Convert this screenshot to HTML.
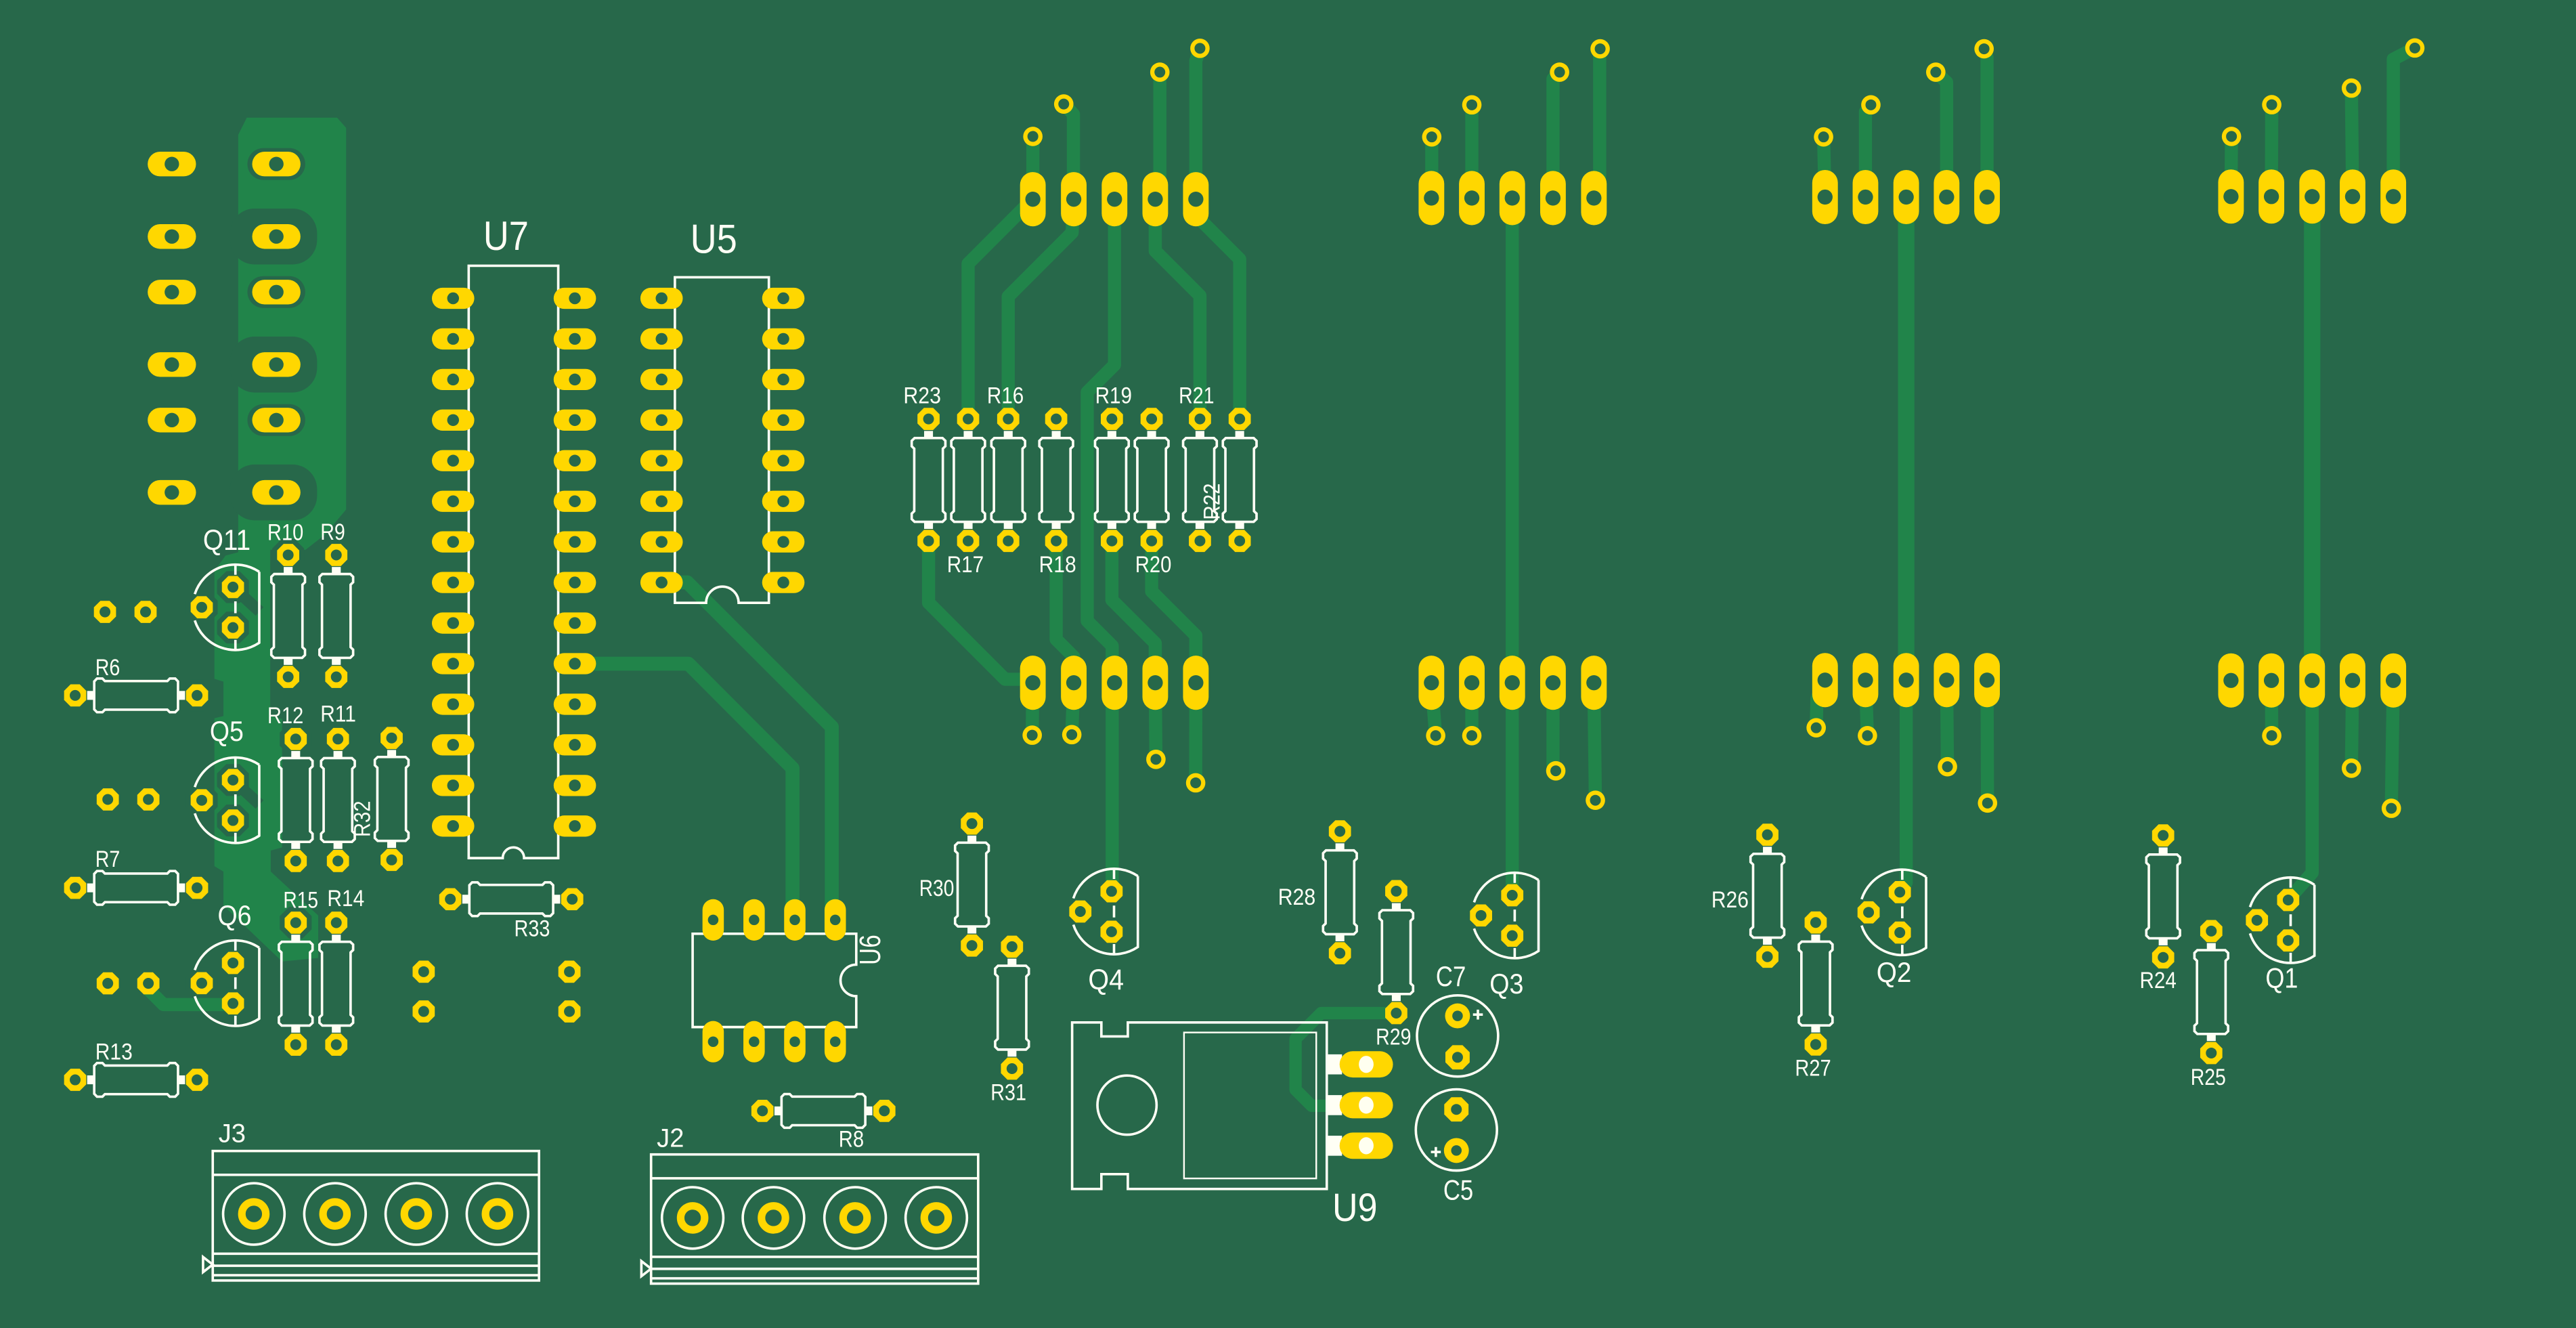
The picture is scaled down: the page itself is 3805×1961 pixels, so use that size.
<!DOCTYPE html>
<html><head><meta charset="utf-8">
<style>
html,body{margin:0;padding:0;background:#27684A;overflow:hidden}
svg{display:block}
text{font-family:"Liberation Sans",Arial,sans-serif;fill:#FFFFF5}
</style></head>
<body>
<svg xmlns="http://www.w3.org/2000/svg" width="3805" height="1961" viewBox="0 0 1568 808" preserveAspectRatio="none">
<defs>
<g id="op"><polygon points="6.74,2.79 2.79,6.74 -2.79,6.74 -6.74,2.79 -6.74,-2.79 -2.79,-6.74 2.79,-6.74 6.74,-2.79" fill="#FFD700"/><circle r="3.3" fill="#27684A"/></g>
<g id="opb"><polygon points="7.39,3.06 3.06,7.39 -3.06,7.39 -7.39,3.06 -7.39,-3.06 -3.06,-7.39 3.06,-7.39 7.39,-3.06" fill="#FFD700"/><circle r="3.3" fill="#27684A"/></g>
<polygon id="cl" points="9.7,4.02 4.02,9.7 -4.02,9.7 -9.7,4.02 -9.7,-4.02 -4.02,-9.7 4.02,-9.7 9.7,-4.02" fill="#27684A"/>
<g id="via"><circle r="5.9" fill="#FFD700"/><circle r="3.3" fill="#27684A"/></g>
<g id="hp"><rect x="-7.8" y="-16.5" width="15.6" height="33" rx="7.8" fill="#FFD700"/><circle r="4.6" fill="#27684A"/></g>
<g id="ip"><rect x="-12.9" y="-6.45" width="25.8" height="12.9" rx="6.45" fill="#FFD700"/><circle r="3.6" fill="#27684A"/></g>
<g id="lp"><rect x="-14.7" y="-7.5" width="29.4" height="15" rx="7.5" fill="#FFD700"/><circle r="4.4" fill="#27684A"/></g>
<g id="up"><rect x="-6.5" y="-12.6" width="13" height="25.2" rx="6.5" fill="#FFD700"/><circle r="3.2" fill="#27684A"/></g>
<g id="rp"><circle r="7.6" fill="#FFD700"/><circle r="3.2" fill="#27684A"/></g>
<g id="rv"><path d="M-8.5,-25.5H8.5L10.25,-23.8V-20.5L8.7,-19V19L10.25,20.5V23.8L8.5,25.5H-8.5L-10.25,23.8V20.5L-8.7,19V-19L-10.25,-20.5V-23.8Z" fill="none" stroke="#FFFFF5" stroke-width="1.5"/><rect x="-2.7" y="-29.8" width="5.4" height="4.3" fill="#FFFFF5"/><rect x="-2.7" y="25.5" width="5.4" height="4.3" fill="#FFFFF5"/></g>
<g id="Rv"><use href="#rv"/><use href="#op" y="-37.1"/><use href="#op" y="37.1"/></g>
<g id="Rh"><use href="#rv" transform="rotate(90)"/><use href="#op" x="-37.1"/><use href="#op" x="37.1"/></g>
<g id="Q"><path d="M14.5,-21.58A26,26 0 0 0 -24.74,-8M-24.74,8A26,26 0 0 0 14.5,21.58L14.5,-21.58M0,-26V-19.8M0,-3.6V3.6M0,19.8V26" fill="none" stroke="#FFFFF5" stroke-width="1.5"/><use href="#op" x="-1.5" y="-12.3"/><use href="#op" x="-20.5" y="0"/><use href="#op" x="-1.5" y="12.3"/></g>
<g id="jc"><circle r="18.7" fill="none" stroke="#FFFFF5" stroke-width="1.5"/><circle r="7.3" fill="none" stroke="#FFD700" stroke-width="4.6"/></g>
</defs>

<rect width="1568" height="808" fill="#27684A"/>

<!-- copper pour -->
<path d="M145,82L150.2,71.6L205.2,71.6L210.7,77.8L210.7,310L197.8,325.3L186,334.5L164.5,334.5L164.5,435.7L171.7,437.5L171.7,515.6L164.8,517.5L164.8,530.3L193.7,557L193.7,582.9L171.7,585L136,551L136,530.3L130.5,527L130.5,437L136,435.7L136,414.7L130.5,413L130.5,347.4L137.3,338L145,336Z" fill="#21844A"/>

<!-- clearances -->
<g fill="#27684A">
<rect x="140" y="126.9" width="53" height="34" rx="15"/>
<rect x="140" y="204.8" width="53" height="34" rx="15"/>
<rect x="140" y="282.6" width="53" height="34" rx="15"/>
<rect x="150.6" y="90.1" width="35.2" height="19.4" rx="9.7"/>
<rect x="150.6" y="168" width="35.2" height="19.4" rx="9.7"/>
<rect x="150.6" y="245.9" width="35.2" height="19.4" rx="9.7"/>
<use href="#cl" x="141.8" y="357.2"/><use href="#cl" x="141.8" y="381.8"/><use href="#cl" x="122.8" y="369.5"/>
<use href="#cl" x="141.8" y="474.6"/><use href="#cl" x="141.8" y="499.2"/><use href="#cl" x="122.8" y="486.9"/>
<use href="#cl" x="141.8" y="585.9"/><use href="#cl" x="141.8" y="610.5"/><use href="#cl" x="122.8" y="598.2"/>
<use href="#cl" x="175.4" y="337.7"/><use href="#cl" x="180" y="449.7"/><use href="#cl" x="180" y="561.4"/>
<use href="#cl" x="119.9" y="423.1"/><use href="#cl" x="119.9" y="540.2"/>
</g>
<path d="M141.8,357.2L158,372M141.8,474.6L158,489.5" stroke="#27684A" stroke-width="7" fill="none"/>

<!-- traces -->
<g fill="none" stroke="#21844A" stroke-width="8" stroke-linecap="round" stroke-linejoin="round">
<path d="M628.7,83V121"/>
<path d="M647.5,63.3L653.4,69.5V121"/>
<path d="M706,43.9V118"/>
<path d="M730.4,29.4L727.9,37V121"/>
<path d="M628.7,121L589.3,160.4V254.8"/>
<path d="M653.6,121L652.6,141.5L613.7,180.4V254.8"/>
<path d="M678.4,121V222L661.8,238.6V377.8L677,393V541.8"/>
<path d="M703.2,121V152.7L730.4,179.9V254.8"/>
<path d="M727.9,121V131L754.6,157.7V254.8"/>
<path d="M565.2,329.1V366.7L611.8,413.3H628.7"/>
<path d="M642.9,329.1V389L653.6,399.7V415"/>
<path d="M676.8,329.1V365L703.2,391.4V415"/>
<path d="M701,329.1V359.8L727.9,386.7V415"/>
<path d="M628.7,415L628.3,447.3"/>
<path d="M653.6,415L652.4,447"/>
<path d="M703.2,415L703.6,462"/>
<path d="M727.9,415L727.8,476.3"/>

<path d="M871.5,83.3V120.5"/>
<path d="M895.9,63.8V120.5"/>
<path d="M949.3,43.9L945.3,48V120.5"/>
<path d="M974,29.7L973.7,32V118"/>
<path d="M920.5,120.5V544.7"/>
<path d="M871.3,415.4L873.9,447.6"/>
<path d="M895.9,415.4V447.6"/>
<path d="M945.3,415.4V465L947,469"/>
<path d="M970.2,415.4L971.1,486.9"/>

<path d="M1110,83.3L1110.9,119.9"/>
<path d="M1138.8,63.8L1135.5,68V119.9"/>
<path d="M1178.3,43.9L1184.9,50V119.9"/>
<path d="M1207.7,29.7L1209.5,35V119.9"/>
<path d="M1160.3,119.9V413.8" stroke-width="10"/>
<path d="M1160.3,413.8V537L1156.4,542.8"/>
<path d="M1110.9,413.8L1106,425L1105.5,442.8"/>
<path d="M1135.5,413.8L1136.7,447.6"/>
<path d="M1184.9,413.8L1185.4,466.5"/>
<path d="M1209.5,413.8L1209.8,488.6"/>

<path d="M1358.3,83L1358,119.6"/>
<path d="M1382.8,63.7L1382.6,119.6"/>
<path d="M1431.3,53.6L1432,119.6"/>
<path d="M1469.9,29.2L1456.8,36V119.6"/>
<path d="M1407.4,119.6V414" stroke-width="10"/>
<path d="M1407.4,414V531L1392.8,547.6"/>
<path d="M1382.6,414L1382.8,447.6"/>
<path d="M1432,414L1431.3,467.4"/>
<path d="M1456.8,414L1455.6,491.8"/>

<path d="M402.7,354.3H418.3L506.3,442.3V559.7" stroke-width="8.5"/>
<path d="M349.9,403.8H419L482.4,467.4V559.7" stroke-width="8.5"/>
<path d="M849.9,616.4H804.2L788.6,632V663L798.4,672.8H831.6" stroke-width="7.5"/>
<path d="M90.3,598.3V602L99.5,611.2H141.8"/>
</g>

<!-- silkscreen outlines -->
<g fill="none" stroke="#FFFFF5" stroke-width="1.5">
<path d="M285.3,161.7H339.8V522.1H319A6.5,6.5 0 0 0 306,522.1H285.3Z"/>
<path d="M410.8,168.7H468V366.8H449.6A9.9,9.9 0 0 0 429.8,366.8H410.8Z"/>
<path d="M421.6,568.1H521.2V586.9A9.6,9.6 0 0 0 521.2,606.1V624.9H421.6Z"/>
<path d="M652.6,622.1H670.4V630.6H686.5V622.1H807.6V723.4H686.5V714.4H670.4V723.4H652.6Z"/>
<rect x="720.7" y="628.2" width="80.5" height="88.8" stroke-width="1"/>
<circle cx="686" cy="672.4" r="18"/>
<rect x="129.5" y="700.3" width="198.6" height="78.8"/>
<path d="M129.5,714.8H328.1M129.5,762.8H328.1M129.5,770.1H328.1M129.5,775.9H328.1"/>
<path d="M123.6,764.8L129.5,769.4L123.6,774Z"/>
<rect x="396.3" y="702.4" width="199.1" height="78.6"/>
<path d="M396.3,716.9H595.4M396.3,764.7H595.4M396.3,772H595.4M396.3,777.8H595.4"/>
<path d="M390.4,767.3L396.3,771.9L390.4,776.5Z"/>
<circle cx="887.2" cy="630.3" r="24.7"/>
<circle cx="886.5" cy="687.5" r="24.7"/>
<path d="M896.6,617.3H902.6M899.6,614.3V620.3M871,700.9H877M874,697.9V703.9"/>
</g>
<g fill="#FFFFF5">
<rect x="807.6" y="641.5" width="9.3" height="12.2"/>
<rect x="807.6" y="666.3" width="9.3" height="12.2"/>
<rect x="807.6" y="691" width="9.3" height="12.2"/>
</g>

<!-- connectors -->
<use href="#jc" x="154.5" y="738.6"/><use href="#jc" x="203.9" y="738.6"/><use href="#jc" x="253.4" y="738.6"/><use href="#jc" x="302.8" y="738.6"/>
<use href="#jc" x="421.6" y="741"/><use href="#jc" x="470.8" y="741"/><use href="#jc" x="520.5" y="741"/><use href="#jc" x="569.9" y="741"/>

<!-- resistors -->
<use href="#Rv" x="175.4" y="374.75"/><use href="#Rv" x="204.7" y="374.75"/>
<use href="#Rv" x="180" y="486.75"/><use href="#Rv" x="205.7" y="486.75"/><use href="#Rv" x="238.4" y="486.1"/>
<use href="#Rv" x="180" y="598.5"/><use href="#Rv" x="204.7" y="598.5"/>
<use href="#Rh" x="82.85" y="423.1"/><use href="#Rh" x="82.85" y="540.2"/><use href="#Rh" x="82.85" y="657"/>
<use href="#Rh" x="311.2" y="547.1"/><use href="#Rh" x="501.2" y="675.9"/>
<use href="#Rv" x="565.2" y="292"/><use href="#Rv" x="589.3" y="292"/><use href="#Rv" x="613.7" y="292"/><use href="#Rv" x="642.9" y="292"/>
<use href="#Rv" x="676.8" y="292"/><use href="#Rv" x="701" y="292"/><use href="#Rv" x="730.4" y="292"/><use href="#Rv" x="754.6" y="292"/>
<use href="#Rv" x="591.6" y="538.2"/><use href="#Rv" x="616" y="613.1"/>
<use href="#Rv" x="815.6" y="542.9"/><use href="#Rv" x="849.9" y="579.3"/>
<use href="#Rv" x="1075.8" y="545"/><use href="#Rv" x="1105.2" y="598.4"/>
<use href="#Rv" x="1316.7" y="545.4"/><use href="#Rv" x="1346" y="603.6"/>

<!-- transistors -->
<use href="#Q" x="143.3" y="369.5"/><use href="#Q" x="143.3" y="486.9"/><use href="#Q" x="143.3" y="598.2"/>
<use href="#Q" x="678.1" y="554.6"/><use href="#Q" x="922" y="557"/><use href="#Q" x="1157.9" y="555.1"/><use href="#Q" x="1394.3" y="559.9"/>

<!-- misc pads -->
<use href="#op" x="63.9" y="372.3"/><use href="#op" x="88.6" y="372.3"/>
<use href="#op" x="65.6" y="486.4"/><use href="#op" x="90.3" y="486.4"/>
<use href="#op" x="65.6" y="598.3"/><use href="#op" x="90.3" y="598.3"/>
<use href="#op" x="257.9" y="591.2"/><use href="#op" x="257.9" y="615.4"/><use href="#op" x="346.6" y="591.2"/><use href="#op" x="346.6" y="615.4"/>
<use href="#rp" x="887.2" y="618.1"/><use href="#opb" x="887.2" y="643.3"/>
<use href="#opb" x="886.5" y="675"/><use href="#rp" x="886.5" y="700"/>

<!-- left header -->
<use href="#lp" x="104.6" y="99.8"/><use href="#lp" x="104.6" y="143.9"/><use href="#lp" x="104.6" y="177.7"/><use href="#lp" x="104.6" y="221.8"/><use href="#lp" x="104.6" y="255.6"/><use href="#lp" x="104.6" y="299.6"/>
<use href="#lp" x="168.2" y="99.8"/><use href="#lp" x="168.2" y="143.9"/><use href="#lp" x="168.2" y="177.7"/><use href="#lp" x="168.2" y="221.8"/><use href="#lp" x="168.2" y="255.6"/><use href="#lp" x="168.2" y="299.6"/>

<!-- U7 pads -->
<g>
<use href="#ip" x="275.8" y="181.5"/><use href="#ip" x="275.8" y="206.2"/><use href="#ip" x="275.8" y="230.9"/><use href="#ip" x="275.8" y="255.6"/><use href="#ip" x="275.8" y="280.3"/><use href="#ip" x="275.8" y="305"/><use href="#ip" x="275.8" y="329.7"/><use href="#ip" x="275.8" y="354.4"/><use href="#ip" x="275.8" y="379.1"/><use href="#ip" x="275.8" y="403.8"/><use href="#ip" x="275.8" y="428.5"/><use href="#ip" x="275.8" y="453.2"/><use href="#ip" x="275.8" y="477.9"/><use href="#ip" x="275.8" y="502.6"/>
<use href="#ip" x="349.9" y="181.5"/><use href="#ip" x="349.9" y="206.2"/><use href="#ip" x="349.9" y="230.9"/><use href="#ip" x="349.9" y="255.6"/><use href="#ip" x="349.9" y="280.3"/><use href="#ip" x="349.9" y="305"/><use href="#ip" x="349.9" y="329.7"/><use href="#ip" x="349.9" y="354.4"/><use href="#ip" x="349.9" y="379.1"/><use href="#ip" x="349.9" y="403.8"/><use href="#ip" x="349.9" y="428.5"/><use href="#ip" x="349.9" y="453.2"/><use href="#ip" x="349.9" y="477.9"/><use href="#ip" x="349.9" y="502.6"/>
</g>
<!-- U5 pads -->
<g>
<use href="#ip" x="402.7" y="181.5"/><use href="#ip" x="402.7" y="206.2"/><use href="#ip" x="402.7" y="230.9"/><use href="#ip" x="402.7" y="255.6"/><use href="#ip" x="402.7" y="280.3"/><use href="#ip" x="402.7" y="305"/><use href="#ip" x="402.7" y="329.7"/><use href="#ip" x="402.7" y="354.4"/>
<use href="#ip" x="476.8" y="181.5"/><use href="#ip" x="476.8" y="206.2"/><use href="#ip" x="476.8" y="230.9"/><use href="#ip" x="476.8" y="255.6"/><use href="#ip" x="476.8" y="280.3"/><use href="#ip" x="476.8" y="305"/><use href="#ip" x="476.8" y="329.7"/><use href="#ip" x="476.8" y="354.4"/>
</g>
<!-- U6 pads -->
<use href="#up" x="434.1" y="559.7"/><use href="#up" x="459" y="559.7"/><use href="#up" x="483.8" y="559.7"/><use href="#up" x="508.4" y="559.7"/>
<use href="#up" x="434.1" y="633.8"/><use href="#up" x="459" y="633.8"/><use href="#up" x="483.8" y="633.8"/><use href="#up" x="508.4" y="633.8"/>
<!-- U9 pads -->
<g>
<rect x="815.4" y="639.6" width="32.5" height="16" rx="8" fill="#FFD700"/><ellipse cx="831.6" cy="647.6" rx="4.5" ry="5.2" fill="#FFFFF0"/>
<rect x="815.4" y="664.4" width="32.5" height="16" rx="8" fill="#FFD700"/><ellipse cx="831.6" cy="672.4" rx="4.5" ry="5.2" fill="#FFFFF0"/>
<rect x="815.4" y="689.1" width="32.5" height="16" rx="8" fill="#FFD700"/><ellipse cx="831.6" cy="697.1" rx="4.5" ry="5.2" fill="#FFFFF0"/>
</g>

<!-- headers -->
<use href="#hp" x="628.7" y="121.2"/><use href="#hp" x="653.6" y="121.2"/><use href="#hp" x="678.4" y="121.2"/><use href="#hp" x="703.2" y="121.2"/><use href="#hp" x="727.9" y="121.2"/>
<use href="#hp" x="628.7" y="415.4"/><use href="#hp" x="653.6" y="415.4"/><use href="#hp" x="678.4" y="415.4"/><use href="#hp" x="703.2" y="415.4"/><use href="#hp" x="727.9" y="415.4"/>
<use href="#hp" x="871.3" y="120.5"/><use href="#hp" x="895.9" y="120.5"/><use href="#hp" x="920.5" y="120.5"/><use href="#hp" x="945.3" y="120.5"/><use href="#hp" x="970.2" y="120.5"/>
<use href="#hp" x="871.3" y="415.4"/><use href="#hp" x="895.9" y="415.4"/><use href="#hp" x="920.5" y="415.4"/><use href="#hp" x="945.3" y="415.4"/><use href="#hp" x="970.2" y="415.4"/>
<use href="#hp" x="1110.9" y="119.9"/><use href="#hp" x="1135.5" y="119.9"/><use href="#hp" x="1160.3" y="119.9"/><use href="#hp" x="1184.9" y="119.9"/><use href="#hp" x="1209.5" y="119.9"/>
<use href="#hp" x="1110.9" y="413.8"/><use href="#hp" x="1135.5" y="413.8"/><use href="#hp" x="1160.3" y="413.8"/><use href="#hp" x="1184.9" y="413.8"/><use href="#hp" x="1209.5" y="413.8"/>
<use href="#hp" x="1358" y="119.6"/><use href="#hp" x="1382.6" y="119.6"/><use href="#hp" x="1407.4" y="119.6"/><use href="#hp" x="1432" y="119.6"/><use href="#hp" x="1456.8" y="119.6"/>
<use href="#hp" x="1358" y="414"/><use href="#hp" x="1382.6" y="414"/><use href="#hp" x="1407.4" y="414"/><use href="#hp" x="1432" y="414"/><use href="#hp" x="1456.8" y="414"/>

<!-- vias -->
<use href="#via" x="628.7" y="83"/><use href="#via" x="647.5" y="63.3"/><use href="#via" x="706" y="43.9"/><use href="#via" x="730.4" y="29.4"/>
<use href="#via" x="628.3" y="447.3"/><use href="#via" x="652.4" y="447"/><use href="#via" x="703.6" y="462"/><use href="#via" x="727.8" y="476.3"/>
<use href="#via" x="871.5" y="83.3"/><use href="#via" x="895.9" y="63.8"/><use href="#via" x="949.3" y="43.9"/><use href="#via" x="974" y="29.7"/>
<use href="#via" x="873.9" y="447.6"/><use href="#via" x="895.9" y="447.6"/><use href="#via" x="947" y="469"/><use href="#via" x="971.1" y="486.9"/>
<use href="#via" x="1110" y="83.3"/><use href="#via" x="1138.8" y="63.8"/><use href="#via" x="1178.3" y="43.9"/><use href="#via" x="1207.7" y="29.7"/>
<use href="#via" x="1105.5" y="442.8"/><use href="#via" x="1136.7" y="447.6"/><use href="#via" x="1185.4" y="466.5"/><use href="#via" x="1209.8" y="488.6"/>
<use href="#via" x="1358.3" y="83"/><use href="#via" x="1382.8" y="63.7"/><use href="#via" x="1431.3" y="53.6"/><use href="#via" x="1469.9" y="29.2"/>
<use href="#via" x="1382.8" y="447.6"/><use href="#via" x="1431.3" y="467.4"/><use href="#via" x="1455.6" y="491.8"/>

<!-- labels -->
<g lengthAdjust="spacingAndGlyphs">
<text x="294.2" y="152.1" font-size="25" textLength="27.6" lengthAdjust="spacingAndGlyphs">U7</text>
<text x="420.2" y="154" font-size="25" textLength="28.5" lengthAdjust="spacingAndGlyphs">U5</text>
<text x="811" y="743" font-size="24" textLength="27.4" lengthAdjust="spacingAndGlyphs">U9</text>
<text transform="translate(535.7,587.2) rotate(-90)" font-size="18" textLength="18.5" lengthAdjust="spacingAndGlyphs">U6</text>

<text x="123.6" y="334.5" font-size="17.5" textLength="28.9" lengthAdjust="spacingAndGlyphs">Q11</text>
<text x="127.7" y="450.8" font-size="17" textLength="20.6" lengthAdjust="spacingAndGlyphs">Q5</text>
<text x="132.5" y="562.9" font-size="17" textLength="20.6" lengthAdjust="spacingAndGlyphs">Q6</text>
<text x="662.4" y="602" font-size="17.5" textLength="21.7" lengthAdjust="spacingAndGlyphs">Q4</text>
<text x="906.7" y="604.4" font-size="17" textLength="20.7" lengthAdjust="spacingAndGlyphs">Q3</text>
<text x="1142.2" y="597.5" font-size="17" textLength="21.3" lengthAdjust="spacingAndGlyphs">Q2</text>
<text x="1379" y="601" font-size="17" textLength="19.8" lengthAdjust="spacingAndGlyphs">Q1</text>

<text x="874" y="599.9" font-size="17" textLength="18.3" lengthAdjust="spacingAndGlyphs">C7</text>
<text x="878.5" y="730" font-size="17" textLength="18.3" lengthAdjust="spacingAndGlyphs">C5</text>
<text x="133" y="694.8" font-size="16" textLength="16.6" lengthAdjust="spacingAndGlyphs">J3</text>
<text x="399.8" y="697.7" font-size="16" textLength="16.6" lengthAdjust="spacingAndGlyphs">J2</text>

<text x="162.8" y="328.5" font-size="14" textLength="21.9" lengthAdjust="spacingAndGlyphs">R10</text>
<text x="195" y="328.3" font-size="14" textLength="15.1" lengthAdjust="spacingAndGlyphs">R9</text>
<text x="162.8" y="440" font-size="14" textLength="21.9" lengthAdjust="spacingAndGlyphs">R12</text>
<text x="195" y="439" font-size="14" textLength="21.7" lengthAdjust="spacingAndGlyphs">R11</text>
<text transform="translate(225.3,509.3) rotate(-90)" font-size="14" textLength="22.1" lengthAdjust="spacingAndGlyphs">R32</text>
<text x="58" y="410.7" font-size="14" textLength="15.1" lengthAdjust="spacingAndGlyphs">R6</text>
<text x="58" y="527.5" font-size="14" textLength="15.1" lengthAdjust="spacingAndGlyphs">R7</text>
<text x="58" y="644.6" font-size="14" textLength="22.7" lengthAdjust="spacingAndGlyphs">R13</text>
<text x="172.4" y="552.4" font-size="14" textLength="21.3" lengthAdjust="spacingAndGlyphs">R15</text>
<text x="199.2" y="551.3" font-size="14" textLength="22.6" lengthAdjust="spacingAndGlyphs">R14</text>
<text x="313" y="569.7" font-size="14" textLength="21.8" lengthAdjust="spacingAndGlyphs">R33</text>
<text x="510.5" y="697.7" font-size="14" textLength="15.4" lengthAdjust="spacingAndGlyphs">R8</text>
<text x="549.9" y="245.4" font-size="14" textLength="22.9" lengthAdjust="spacingAndGlyphs">R23</text>
<text x="600.8" y="245.4" font-size="14" textLength="22.4" lengthAdjust="spacingAndGlyphs">R16</text>
<text x="666.6" y="245.4" font-size="14" textLength="22.4" lengthAdjust="spacingAndGlyphs">R19</text>
<text x="717.5" y="245.4" font-size="14" textLength="21.6" lengthAdjust="spacingAndGlyphs">R21</text>
<text x="576.4" y="348.2" font-size="14" textLength="22.4" lengthAdjust="spacingAndGlyphs">R17</text>
<text x="632.4" y="348.2" font-size="14" textLength="22.7" lengthAdjust="spacingAndGlyphs">R18</text>
<text x="691" y="348.2" font-size="14" textLength="22.1" lengthAdjust="spacingAndGlyphs">R20</text>
<text transform="translate(742.3,316.3) rotate(-90)" font-size="14" textLength="22.3" lengthAdjust="spacingAndGlyphs">R22</text>
<text x="559.5" y="545.2" font-size="14" textLength="21.3" lengthAdjust="spacingAndGlyphs">R30</text>
<text x="603" y="669.3" font-size="14" textLength="21.7" lengthAdjust="spacingAndGlyphs">R31</text>
<text x="777.9" y="550.5" font-size="14" textLength="22.9" lengthAdjust="spacingAndGlyphs">R28</text>
<text x="837.4" y="635.5" font-size="14" textLength="21.6" lengthAdjust="spacingAndGlyphs">R29</text>
<text x="1041.7" y="552.2" font-size="14" textLength="22.7" lengthAdjust="spacingAndGlyphs">R26</text>
<text x="1092.6" y="654.5" font-size="14" textLength="22" lengthAdjust="spacingAndGlyphs">R27</text>
<text x="1302.4" y="601.1" font-size="14" textLength="22.4" lengthAdjust="spacingAndGlyphs">R24</text>
<text x="1333.4" y="660" font-size="14" textLength="21.5" lengthAdjust="spacingAndGlyphs">R25</text>
</g>
</svg>
</body></html>
